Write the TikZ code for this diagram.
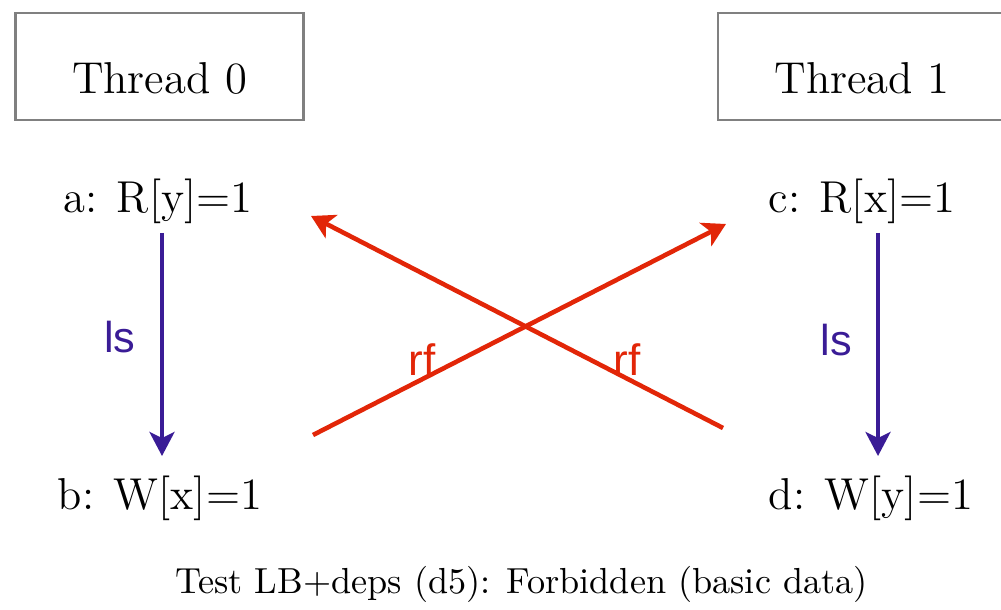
\documentclass[tikz,border=0pt]{standalone}
\usepackage{fontspec}
\newfontfamily\lblfont{Liberation Sans}
\usetikzlibrary{arrows.meta, positioning}
\definecolor{rfred}{RGB}{226,38,8}
\definecolor{lsblue}{RGB}{58,28,150}

\begin{document}
\begin{tikzpicture}[
    x=0.01cm, y=-0.01cm,
    thread/.style={draw=black!50, line width=0.65pt, minimum width=2.88cm, minimum height=1.07cm,
                   text height=0.53cm, text depth=0pt, font=\fontsize{12.7}{15}\selectfont},
    event/.style={inner sep=0pt, anchor=base, font=\fontsize{12.7}{15}\selectfont},
    lsedge/.style={draw=lsblue, line width=1.05pt, -{Stealth[length=0.24cm, width=0.25cm, inset=0.06cm]}},
    rfedge/.style={draw=rfred, line width=1.3pt, -{Stealth[length=0.23cm, width=0.26cm, inset=0.06cm]}},
    lslabel/.style={text=lsblue, font=\lblfont\fontsize{12.3}{14}\selectfont},
    rflabel/.style={text=rfred, font=\lblfont\fontsize{12.5}{14}\selectfont}
]
\useasboundingbox (0,0) rectangle (1001,610);
\node[thread] (t0) at (159.5,66.5) {Thread 0};
\node[thread] (t1) at (862,66.5) {Thread 1};
\node[event] (a) at (158,213) {a: R[y]=1};
\node[event] (b) at (160,509) {b: W[x]=1};
\node[event] (c) at (862,213) {c: R[x]=1};
\node[event] (d) at (871,509) {d: W[y]=1};
\coordinate (a-ls) at (162,233);
\coordinate (b-ls) at (162,456);
\coordinate (c-ls) at (878,233);
\coordinate (d-ls) at (878,456);
\coordinate (b-rf) at (313,435);
\coordinate (c-rf) at (726,224);
\coordinate (d-rf) at (723,428);
\coordinate (a-rf) at (311,216);
\draw[lsedge] (a-ls) -- (b-ls);
\draw[lsedge] (c-ls) -- (d-ls);
\draw[rfedge] (b-rf) -- (c-rf);
\draw[rfedge] (d-rf) -- (a-rf);
\node[lslabel] (ls0) at (120,337) {ls};
\node[lslabel] (ls1) at (836,340) {ls};
\node[rflabel] (rf0) at (422,360) {rf};
\node[rflabel] (rf1) at (627,360) {rf};
\node[anchor=base, font=\fontsize{10.3}{12}\selectfont] (cap) at (521.5,593)
    {Test LB+deps (d5): Forbidden (basic data)};
\end{tikzpicture}
\end{document}
